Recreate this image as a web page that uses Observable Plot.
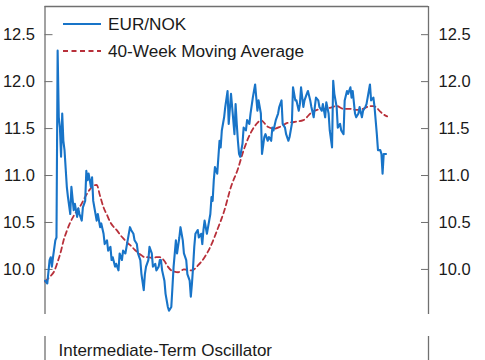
<!DOCTYPE html>
<html><head><meta charset="utf-8">
<script src="https://cdn.jsdelivr.net/npm/d3@7"></script>
<script src="https://cdn.jsdelivr.net/npm/@observablehq/plot@0.6"></script>
<style>
html,body{margin:0;padding:0;background:#fff;overflow:hidden;}
#wrap{position:relative;width:485px;height:360px;overflow:hidden;font-family:"Liberation Sans",Arial,sans-serif;}
#wrap > svg, #wrap > figure{position:absolute;left:0;margin:0;}
</style></head><body><div id="wrap"></div>
<script>
// ---- data (weekly index, EUR/NOK) ----
const weeks = [0,2,4,5,6,7,9,10,11,12,13,14,15,16,17,19,20,22,23,25,26,28,29,30,32,33,35,36,37,38,40,41,42,43,45,46,48,49,51,52,54,55,57,58,59,61,62,64,65,67,68,70,71,72,74,75,77,78,80,81,83,84,86,87,88,90,91,93,94,96,97,99,100,101,102,104,105,107,108,110,111,112,114,115,117,118,120,121,123,124,126,127,128,129,130,131,133,134,136,137,138,139,141,142,144,145,146,147,148,150,152,153,154,156,157,159,160,162,163,165,166,167,168,169,170,172,173,175,176,178,179,181,182,183,184,185,186,188,189,191,192,194,195,197,198,199,201,203,204,206,207,209,210,212,213,215,216,218,219,221,222,223,225,226,228,229,231,232,234,235,236,238,239,241,242,244,245,247,248,250,251,252,254,255,257,258,260,261,263,264,266,267,268,270,271,273,274,276,277,279,280,281,283,284,286,287,289,290,292,293,294,295,297];
const eurnok = [9.88,9.85,10.10,10.13,10.03,10.13,10.31,10.34,12.33,11.62,11.51,11.20,11.66,11.37,11.27,10.88,10.77,10.59,10.88,10.63,10.70,10.56,10.65,10.59,10.52,10.66,10.73,11.05,10.95,11.02,10.88,10.98,10.73,10.66,10.52,10.59,10.45,10.49,10.38,10.27,10.31,10.20,10.24,10.10,10.13,10.03,10.06,9.99,10.17,10.10,10.20,10.17,10.24,10.31,10.45,10.42,10.38,10.31,10.27,10.17,10.10,9.95,9.78,9.95,10.03,10.10,10.24,10.17,10.03,10.06,9.99,10.03,10.10,10.10,9.99,9.88,9.74,9.60,9.56,9.60,9.81,10.03,10.31,10.17,10.34,10.45,10.31,10.17,10.10,9.95,9.88,9.71,9.85,10.03,10.24,10.38,10.42,10.34,10.38,10.27,10.42,10.52,10.38,10.45,10.59,10.77,10.73,10.95,11.09,11.02,11.37,11.30,11.48,11.62,11.73,11.90,11.55,11.87,11.73,11.44,11.76,11.55,11.37,11.23,11.20,11.34,11.51,11.48,11.59,11.55,11.66,11.83,11.90,11.97,11.83,11.69,11.80,11.66,11.23,11.41,11.44,11.37,11.41,11.37,11.51,11.48,11.59,11.66,11.73,11.80,11.55,11.51,11.44,11.37,11.41,11.55,11.94,11.80,11.80,11.69,11.76,11.94,11.73,11.80,11.87,11.90,11.80,11.73,11.62,11.73,11.83,11.80,11.73,11.69,11.76,11.62,11.78,11.66,11.48,11.30,12.01,11.87,11.73,11.51,11.55,11.48,11.44,11.80,11.90,11.87,11.94,11.83,11.90,11.66,11.62,11.66,11.73,11.62,11.69,11.73,11.76,11.83,11.97,11.80,11.83,11.73,11.44,11.27,11.27,11.23,11.02,11.23,11.23];
// ---- data (40-week moving average) ----
const maWeeks = [0,4,8,11,14,16,19,22,25,28,31,34,39,42,45,48,51,54,57,60,63,66,69,72,75,78,81,84,87,90,94,97,100,104,107,110,116,121,128,133,139,144,150,156,162,168,173,179,185,188,194,200,205,211,217,225,228,231,237,243,248,254,260,265,271,277,283,286,289,292,295,298];
const ma40 = [9.87,9.92,9.98,10.08,10.20,10.30,10.41,10.50,10.57,10.63,10.68,10.75,10.85,10.89,10.90,10.78,10.66,10.58,10.50,10.45,10.41,10.36,10.32,10.28,10.25,10.21,10.18,10.15,10.13,10.13,10.12,10.13,10.13,10.09,10.03,9.99,9.97,10.00,9.99,10.04,10.13,10.24,10.42,10.62,10.88,11.07,11.27,11.45,11.56,11.59,11.52,11.50,11.52,11.56,11.57,11.59,11.62,11.66,11.70,11.71,11.72,11.74,11.71,11.71,11.70,11.71,11.74,11.74,11.72,11.68,11.65,11.63];
const yTicks = [10.0, 10.5, 11.0, 11.5, 12.0, 12.5];
const seriesNames = ["EUR/NOK", "40-Week Moving Average"];
const panel2Title = "Intermediate-Term Oscillator";
const xDomain = [0, 334];
const yDomain = [9.52, 12.8];

const blue = "#1874c8", red = "#b8303a", axisGray = "#707070", ink = "#1a1a1a";
const FONT = '"Liberation Sans", Arial, sans-serif';
const spot = weeks.map((w, i) => ({week: w, value: eurnok[i]}));
const avg = maWeeks.map((w, i) => ({week: w, value: ma40[i]}));

const wrap = document.getElementById("wrap");

const topPlot = Plot.plot({
  width: 485, height: 320,
  marginTop: 6, marginBottom: 6, marginLeft: 44.5, marginRight: 57,
  style: {fontFamily: FONT, fontSize: "16.5px", color: ink, background: "transparent", overflow: "visible"},
  x: {domain: xDomain, axis: null},
  y: {domain: yDomain, label: null},
  marks: [
    Plot.axisY(yTicks, {anchor: "left", tickSize: -8, tickPadding: 18, tickFormat: d3.format(".1f"), stroke: axisGray, label: null}),
    Plot.axisY(yTicks, {anchor: "right", tickSize: -8, tickPadding: 18, tickFormat: d3.format(".1f"), stroke: axisGray, label: null}),
    Plot.ruleX(xDomain, {stroke: axisGray, strokeWidth: 1.3}),
    Plot.ruleY([yDomain[1]], {stroke: axisGray, strokeWidth: 1.3}),
    Plot.line(avg, {x: "week", y: "value", stroke: red, strokeWidth: 1.8, strokeDasharray: "5,3.5", curve: "monotone-x"}),
    Plot.line(spot, {x: "week", y: "value", stroke: blue, strokeWidth: 2.1})
  ]
});
topPlot.style.top = "0px";
wrap.appendChild(topPlot);

const botPlot = Plot.plot({
  width: 485, height: 40,
  marginTop: 16, marginBottom: 0, marginLeft: 44.5, marginRight: 57,
  style: {fontFamily: FONT, fontSize: "17px", color: ink, background: "transparent", overflow: "visible"},
  x: {domain: xDomain, axis: null},
  y: {domain: [0, 1], axis: null},
  marks: [
    Plot.ruleX(xDomain, {stroke: axisGray, strokeWidth: 1.3}),
    Plot.text([panel2Title], {frameAnchor: "top-left", textAnchor: "start", lineAnchor: "middle", dx: 13.5, dy: 14.5, fontSize: 17, fill: ink})
  ]
});
botPlot.style.top = "320px";
wrap.appendChild(botPlot);

// legend (inside the top panel)
const ns = "http://www.w3.org/2000/svg";
const leg = document.createElementNS(ns, "svg");
leg.setAttribute("width", 485); leg.setAttribute("height", 70);
leg.style.position = "absolute"; leg.style.top = "0px"; leg.style.left = "0px";
const legItems = [{name: seriesNames[0], color: blue, dash: null, w: 2.1, y: 24}, {name: seriesNames[1], color: red, dash: "5,3.5", w: 1.8, y: 51}];
for (const it of legItems) {
  const l = document.createElementNS(ns, "line");
  l.setAttribute("x1", 63); l.setAttribute("x2", 101);
  l.setAttribute("y1", it.y); l.setAttribute("y2", it.y);
  l.setAttribute("stroke", it.color); l.setAttribute("stroke-width", it.w);
  if (it.dash) l.setAttribute("stroke-dasharray", it.dash);
  leg.appendChild(l);
  const t = document.createElementNS(ns, "text");
  t.setAttribute("x", 108); t.setAttribute("y", it.y);
  t.setAttribute("dominant-baseline", "central");
  t.setAttribute("font-family", FONT); t.setAttribute("font-size", "17.2");
  t.setAttribute("fill", ink);
  t.textContent = it.name;
  leg.appendChild(t);
}
wrap.appendChild(leg);
</script>
</body></html>
